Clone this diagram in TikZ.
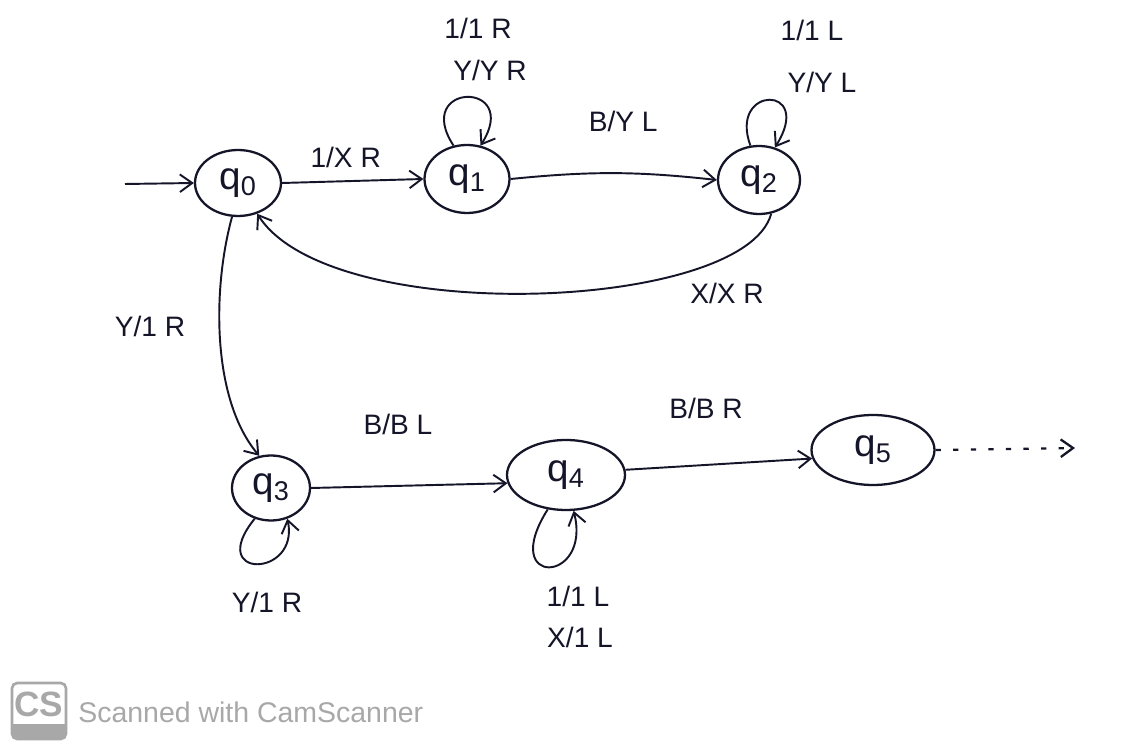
\documentclass[tikz,border=0pt]{standalone}
\usepackage{fontspec}
\setmainfont{Liberation Sans}
\usetikzlibrary{arrows.meta,shapes.geometric}
\definecolor{ink}{HTML}{15152A}
\definecolor{wm}{HTML}{A8A8A8}
\begin{document}
\begin{tikzpicture}[x=0.02cm,y=-0.02cm,
  state/.style={draw=ink, ellipse, line width=1.3pt, inner sep=0pt, text=ink, font=\fontsize{22}{24}\selectfont},
  tr/.style={draw=ink, line width=1.1pt, -{Straight Barb[length=7pt,width=10pt]}},
  lbl/.style={text=ink, font=\fontsize{16}{18}\selectfont, inner sep=1pt}]
\useasboundingbox (0,0) rectangle (1140,749);
\fill[white] (0,0) rectangle (1140,749);
% states
\node[state, minimum width=1.72cm, minimum height=1.32cm] (q0) at (238,183) {q\textsubscript{0}};
\node[state, minimum width=1.70cm, minimum height=1.36cm] (q1) at (467,179) {q\textsubscript{1}};
\node[state, minimum width=1.64cm, minimum height=1.36cm] (q2) at (759,180) {q\textsubscript{2}};
\node[state, minimum width=1.56cm, minimum height=1.30cm] (q3) at (271,488) {q\textsubscript{3}};
\node[state, minimum width=2.36cm, minimum height=1.40cm] (q4) at (566,475) {q\textsubscript{4}};
\node[state, minimum width=2.46cm, minimum height=1.40cm] (q5) at (873,450) {q\textsubscript{5}};
\coordinate (start) at (125,184);
\coordinate (out) at (1075,448);
% transitions
\draw[tr] (start) -- (q0.west);
\draw[tr] (q0.east) -- node[lbl, above=6pt, pos=0.45] (l01) {1/X R} (q1.west);
\draw[tr] (q1.east) to[bend left=6] node[lbl, above=22pt, pos=0.55] (l12) {B/Y L} (q2.west);
\draw[tr] (q2.-70) .. controls (745,312) and (330,328) .. (q0.-58);
\node[lbl] (l20) at (727,293) {X/X R};
\draw[tr] (q0.-100) .. controls (212,290) and (212,400) .. (q3.110);
\node[lbl] (l03) at (150,326) {Y/1 R};
\draw[tr] (q3.east) -- (q4.-172);
\node[lbl] (l34) at (398,424) {B/B L};
\draw[tr] (q4.5) -- (q5.-172);
\node[lbl] (l45) at (706,408) {B/B R};
\draw[draw=ink, line width=1.3pt, dash pattern=on 3pt off 7pt, -{Straight Barb[length=7pt,width=10pt]}] (q5.east) -- (out);
% loops
\draw[tr] (q1.112) .. controls (412,82) and (522,80) .. (q1.68);
\node[lbl] (lq1a) at (478,28) {1/1 R};
\node[lbl] (lq1b) at (490,70) {Y/Y R};
\draw[tr] (q2.104) .. controls (728,85) and (815,84) .. (q2.64);
\node[lbl] (lq2a) at (812,30) {1/1 L};
\node[lbl] (lq2b) at (822,82) {Y/Y L};
\draw[tr] (q3.-118) .. controls (205,580) and (300,578) .. (q3.-62);
\node[lbl] (lq3) at (267,602) {Y/1 R};
\draw[tr] (q4.-118) .. controls (498,588) and (592,584) .. (q4.-78);
\node[lbl] (lq4a) at (578,596) {1/1 L};
\node[lbl] (lq4b) at (580,637) {X/1 L};
% watermark
\begin{scope}
\clip[rounded corners=3pt] (12,683) rectangle (66,739);
\fill[wm] (12,724) rectangle (66,739);
\end{scope}
\draw[wm, line width=1.5pt, rounded corners=3pt] (12,683) rectangle (66,739);
\node[text=wm, font=\fontsize{20}{22}\selectfont\bfseries] (cs) at (39,704) {CS};
\node[text=wm, font=\fontsize{16.2}{19}\selectfont, anchor=west, inner sep=0pt] (scan) at (78,712) {Scanned with CamScanner};
\end{tikzpicture}
\end{document}
